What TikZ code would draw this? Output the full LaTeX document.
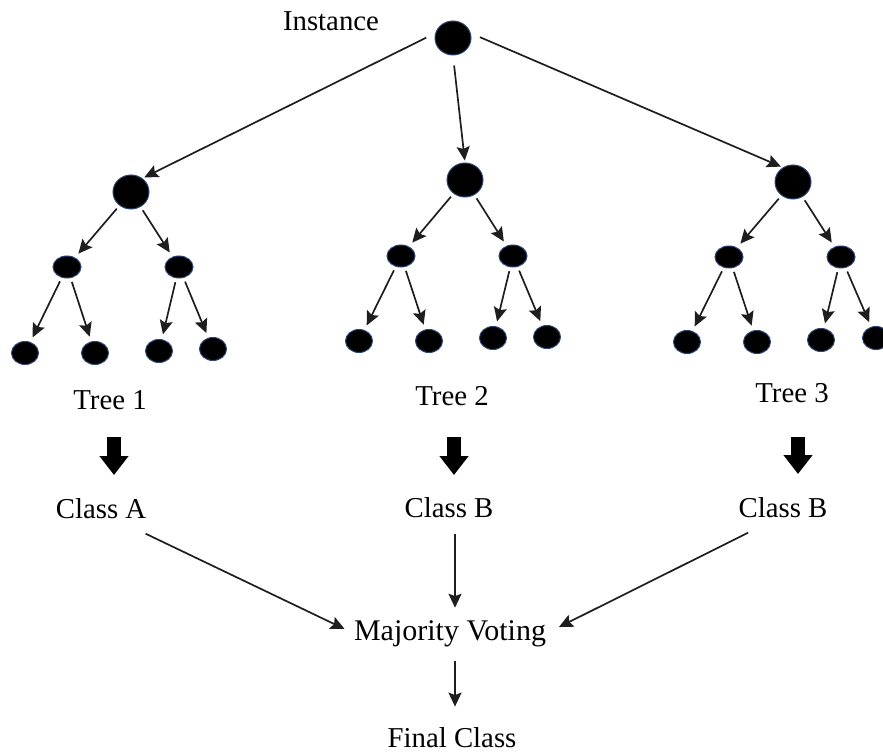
\documentclass[tikz,border=0pt]{standalone}
\usepackage{fontspec}
\setmainfont{Liberation Serif}
\usetikzlibrary{shapes.geometric,arrows.meta}
\definecolor{nodeedge}{RGB}{45,70,120}
\definecolor{linecol}{RGB}{30,30,30}
\begin{document}
\begin{tikzpicture}[x=0.5pt,y=-0.5pt,
  big/.style={ellipse,fill=black,draw=nodeedge,line width=0.5pt,inner sep=0pt,minimum width=18pt,minimum height=17pt},
  mid/.style={ellipse,fill=black,draw=nodeedge,line width=0.5pt,inner sep=0pt,minimum width=14pt,minimum height=11pt},
  leaf/.style={ellipse,fill=black,draw=nodeedge,line width=0.5pt,inner sep=0pt,minimum width=13.5pt,minimum height=11.5pt},
  lbl/.style={anchor=base,inner sep=0pt,font=\fontsize{14.4pt}{17pt}\selectfont},
  arr/.style={draw=linecol,line width=0.85pt,-{Stealth[length=7pt,width=6.5pt,inset=1.2pt]}},
  tarr/.style={arr,shorten <=2pt,shorten >=2.5pt},
  fat/.style={line width=7pt,-{Triangle[length=9.5pt,width=14pt]}}
]
\useasboundingbox (0,0) rectangle (883,754);
% root
\node[big] (root) at (453,38) {};
\node[lbl] (inst) at (331,31) {Instance};
% tree 1
\node[big] (t1) at (131,192) {};
\node[mid] (t1a) at (67,267) {};
\node[mid] (t1b) at (179,267) {};
\node[leaf] (t1a1) at (25,353) {};
\node[leaf] (t1a2) at (95,353) {};
\node[leaf] (t1b1) at (159,351) {};
\node[leaf] (t1b2) at (213,349) {};
% tree 2
\node[big] (t2) at (465,180) {};
\node[mid] (t2a) at (401,256) {};
\node[mid] (t2b) at (513,256) {};
\node[leaf] (t2a1) at (359,341) {};
\node[leaf] (t2a2) at (429,341) {};
\node[leaf] (t2b1) at (493,338) {};
\node[leaf] (t2b2) at (547,337) {};
% tree 3
\node[big] (t3) at (793,182) {};
\node[mid] (t3a) at (729,257) {};
\node[mid] (t3b) at (841,257) {};
\node[leaf] (t3a1) at (687,342) {};
\node[leaf] (t3a2) at (757,342) {};
\node[leaf] (t3b1) at (821,340) {};
\node[leaf] (t3b2) at (876,338) {};
% labels
\node[lbl] (tr1) at (110,409) {Tree 1};
\node[lbl] (tr2) at (452,405) {Tree 2};
\node[lbl] (tr3) at (792,402) {Tree 3};
\node[lbl] (ca) at (101,518) {Class A};
\node[lbl] (cb2) at (449,517) {Class B};
\node[lbl] (cb3) at (783,517) {Class B};
\node[lbl,font=\fontsize{15pt}{17pt}\selectfont] (mv) at (450,640) {Majority Voting};
\node[lbl] (fc) at (452,747) {Final Class};
% root connectors
\draw[arr,shorten <=5pt,shorten >=1pt] (root.165) -- (t1.50);
\draw[arr,shorten <=5pt,shorten >=1pt] (root.south) -- (t2.north);
\draw[arr,shorten <=5pt,shorten >=1pt] (root.15) -- (t3.125);
% tree connectors
\foreach \p/\c in {t1/t1a,t1/t1b,t1a/t1a1,t1a/t1a2,t1b/t1b1,t1b/t1b2,
                   t2/t2a,t2/t2b,t2a/t2a1,t2a/t2a2,t2b/t2b1,t2b/t2b2,
                   t3/t3a,t3/t3b,t3a/t3a1,t3a/t3a2,t3b/t3b1,t3b/t3b2}
  \draw[tarr] (\p) -- (\c);
% fat arrows
\coordinate (f1s) at (114,437); \coordinate (f1e) at (114,475);
\coordinate (f2s) at (454,437); \coordinate (f2e) at (454,475);
\coordinate (f3s) at (798,437); \coordinate (f3e) at (798,474);
\draw[fat] (f1s) -- (f1e);
\draw[fat] (f2s) -- (f2e);
\draw[fat] (f3s) -- (f3e);
% voting connectors
\draw[arr,shorten >=5pt] ([xshift=-0.5pt,yshift=-7.5pt]ca.south east) -- (mv.west);
\draw[arr,shorten <=8pt,shorten >=6pt] ([xshift=3pt]cb2.south) -- ([xshift=2.5pt]mv.north);
\draw[arr,shorten >=7pt] ([xshift=5pt,yshift=-7.5pt]cb3.south west) -- (mv.east);
\draw[arr,shorten <=7pt,shorten >=10pt] ([xshift=2.5pt]mv.south) -- ([xshift=1.5pt]fc.north);
\end{tikzpicture}
\end{document}
